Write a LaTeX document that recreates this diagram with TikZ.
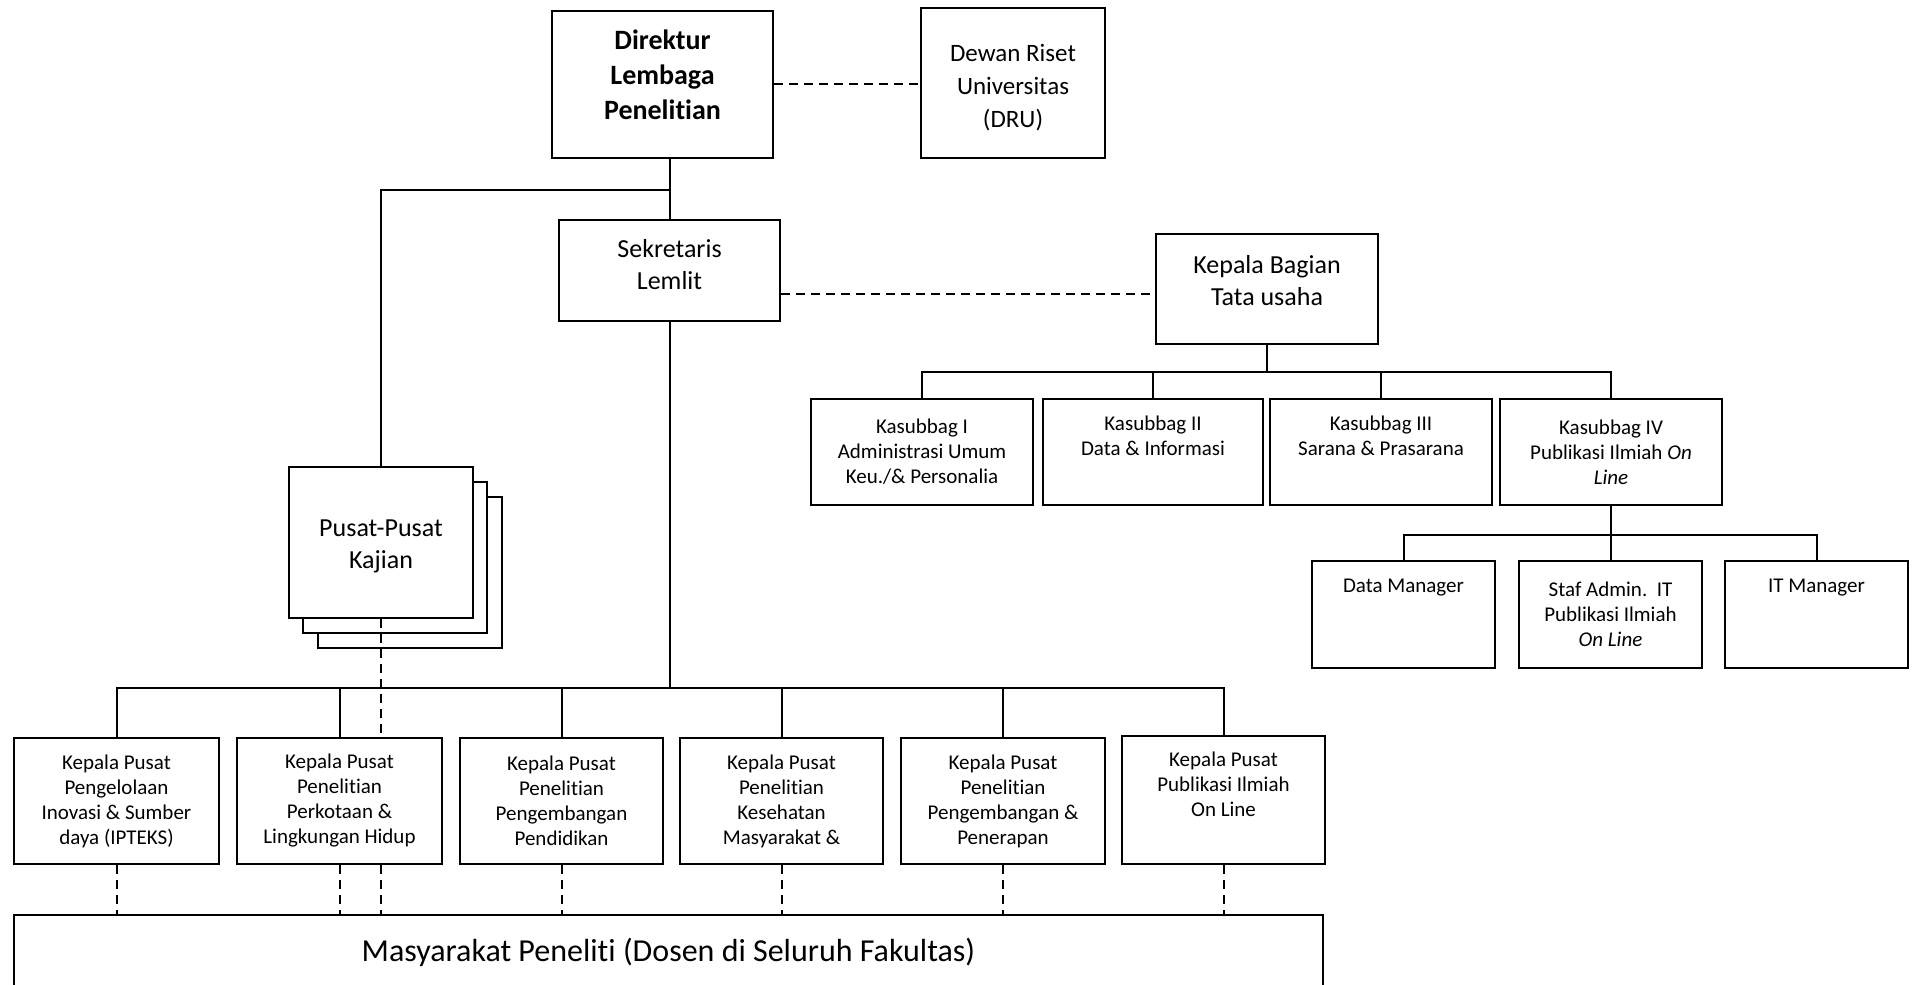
\documentclass[tikz,border=0pt]{standalone}
\usepackage{fontspec}
\setmainfont{Carlito}[Ligatures=NoCommon]

\begin{document}
\begin{tikzpicture}[x=0.5pt,y=-0.5pt,
  orgbox/.style={draw,line width=1pt,inner sep=0pt,align=center,fill=white},
  topbox/.style={orgbox,font=\fontsize{13}{16}\selectfont},
  smallbox/.style={orgbox,font=\fontsize{10.5}{12.5}\selectfont},
  conn/.style={line width=1pt},
  dashconn/.style={line width=1pt,dash pattern=on 4.5pt off 3pt}]

\useasboundingbox (0,0) rectangle (1914,984);

\node[topbox,font=\fontsize{14}{17.5}\selectfont\bfseries,minimum width=110.5pt,minimum height=73.5pt] (dir) at (662.5,84.5) {Direktur\\Lembaga\\Penelitian\rule[-10pt]{0pt}{10pt}};
\node[topbox,font=\fontsize{12.5}{16.5}\selectfont,minimum width=92pt,minimum height=75pt] (dru) at (1013,83) {\rule{0pt}{13pt}Dewan Riset\\Universitas\\(DRU)};

\node[topbox,minimum width=110.5pt,minimum height=50.5pt] (sek) at (669.5,270.5) {Sekretaris\\Lemlit\rule[-6pt]{0pt}{6pt}};
\node[topbox,minimum width=111pt,minimum height=55pt] (kabag) at (1267,289) {Kepala Bagian\\Tata usaha\rule[-9pt]{0pt}{9pt}};

\node[topbox,minimum width=92pt,minimum height=75.5pt] (pusatc) at (410,572.5) {};
\node[topbox,minimum width=92pt,minimum height=75.5pt] (pusatb) at (395,557.5) {};
\node[topbox,minimum width=92pt,minimum height=75.5pt] (pusat) at (381,542.5) {\rule{0pt}{12.5pt}Pusat-Pusat\\Kajian};

\node[smallbox,minimum width=111pt,minimum height=53pt] (kas1) at (922,452) {Kasubbag I\\Administrasi Umum\\Keu./\& Personalia};
\node[smallbox,minimum width=110pt,minimum height=53pt] (kas2) at (1153,452) {Kasubbag II\\Data \& Informasi\\\strut};
\node[smallbox,minimum width=111pt,minimum height=53pt] (kas3) at (1381,452) {Kasubbag III\\Sarana \& Prasarana\\\strut};
\node[smallbox,minimum width=111pt,minimum height=53pt] (kas4) at (1611,452) {Kasubbag IV\\Publikasi Ilmiah \textit{On}\\\textit{Line}};

\node[smallbox,minimum width=91.5pt,minimum height=53.5pt] (dm) at (1403.5,614.5) {Data Manager\\\strut\\\strut};
\node[smallbox,minimum width=91.5pt,minimum height=53.5pt] (staf) at (1610.5,614.5) {Staf Admin.~~IT\\Publikasi Ilmiah\\\textit{On Line}};
\node[smallbox,minimum width=91.5pt,minimum height=53.5pt] (itm) at (1816.5,614.5) {IT Manager\\\strut\\\strut};

\node[smallbox,minimum width=102.5pt,minimum height=63pt] (kp1) at (116.5,801) {Kepala Pusat\\Pengelolaan\\Inovasi \& Sumber\\daya (IPTEKS)};
\node[smallbox,minimum width=102.5pt,minimum height=63pt] (kp2) at (339.5,801) {Kepala Pusat\\Penelitian\\Perkotaan \&\\Lingkungan Hidup};
\node[smallbox,minimum width=101.5pt,minimum height=63pt] (kp3) at (561.5,801) {Kepala Pusat\\Penelitian\\Pengembangan\\Pendidikan};
\node[smallbox,minimum width=101.5pt,minimum height=63pt] (kp4) at (781.5,801) {Kepala Pusat\\Penelitian\\Kesehatan\\Masyarakat \&};
\node[smallbox,minimum width=102pt,minimum height=63pt] (kp5) at (1003,801) {Kepala Pusat\\Penelitian\\Pengembangan \&\\Penerapan};
\node[smallbox,minimum width=101.5pt,minimum height=64pt] (kp6) at (1223.5,800) {Kepala Pusat\\Publikasi Ilmiah\\On Line\\\strut};

\node[orgbox,font=\fontsize{16}{19}\selectfont,minimum width=654.5pt,minimum height=37.5pt] (masy) at (668.5,952.5) {Masyarakat Peneliti (Dosen di Seluruh Fakultas)};

\coordinate (split) at (669.5,190);
\coordinate (tuline) at (0,294);
\coordinate (kbus) at (0,372);
\coordinate (itbus) at (0,535);
\coordinate (lowbus) at (0,688);

\draw[dashconn] (dir.east) -- (dir.east -| dru.west);
\draw[dashconn] (sek.east |- tuline) -- (kabag.west |- tuline);

\draw[conn] (dir.south -| sek.north) -- (sek.north);
\draw[conn] (pusat.north) |- (split);
\draw[conn] (sek.south) -- (sek.south |- lowbus);

\draw[conn] (kabag.south) -- (kabag.south |- kbus);
\draw[conn] (kas1.north) |- (kas4.north |- kbus) -- (kas4.north);
\foreach \k in {kas2,kas3}
  \draw[conn] (\k.north) -- (\k.north |- kbus);

\draw[conn] (kas4.south) -- (kas4.south |- itbus);
\draw[conn] (dm.north) |- (itm.north |- itbus) -- (itm.north);
\draw[conn] (staf.north) -- (staf.north |- itbus);

\draw[conn] (kp1.north) |- (kp6.north |- lowbus) -- (kp6.north);
\foreach \k in {kp2,kp3,kp4,kp5}
  \draw[conn] (\k.north) -- (\k.north |- lowbus);

\foreach \k in {kp1,kp2,kp3,kp4,kp5,kp6}
  \draw[dashconn] (\k.south) -- (\k.south |- masy.north);
\draw[dashconn] (pusat.south) -- (pusat.south |- kp2.north);
\draw[dashconn] (pusat.south |- kp2.south) -- (pusat.south |- masy.north);

\end{tikzpicture}
\end{document}
